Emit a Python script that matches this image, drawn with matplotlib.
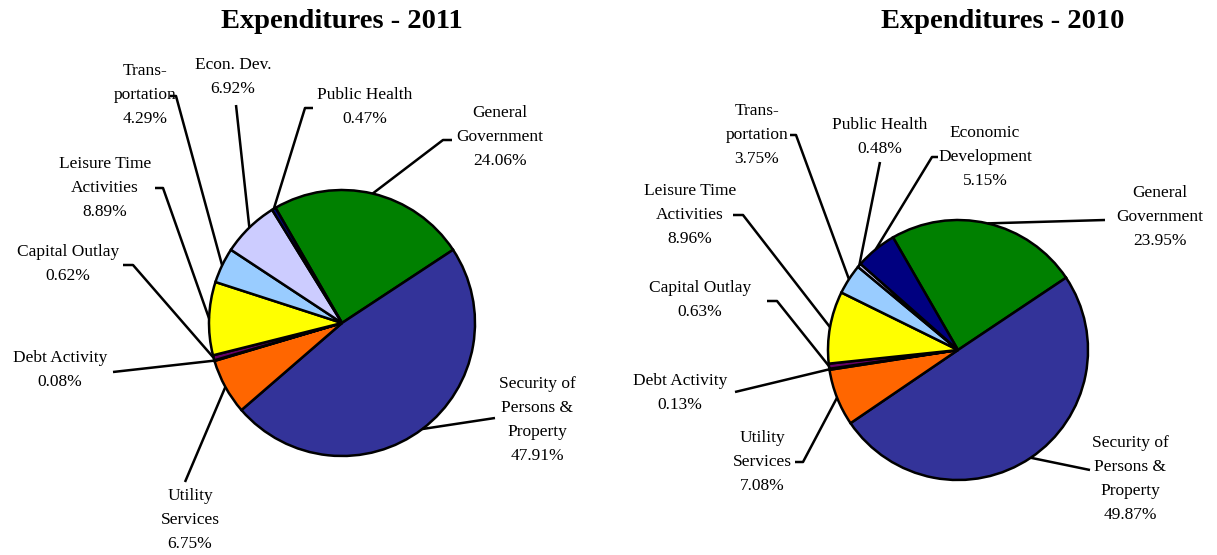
import matplotlib
matplotlib.use("Agg")
import matplotlib.pyplot as plt
import numpy as np

W, H = 1217, 555

# 2011 data (clockwise from General Government)
categories_2011 = ["General\nGovernment", "Security of\nPersons &\nProperty",
                   "Utility\nServices", "Debt Activity", "Capital Outlay",
                   "Leisure Time\nActivities", "Trans-\nportation",
                   "Econ. Dev.", "Public Health"]
share_2011 = [24.06, 47.91, 6.75, 0.08, 0.62, 8.89, 4.29, 6.92, 0.47]

# 2010 data
categories_2010 = ["General\nGovernment", "Security of\nPersons &\nProperty",
                   "Utility\nServices", "Debt Activity", "Capital Outlay",
                   "Leisure Time\nActivities", "Trans-\nportation",
                   "Public Health", "Economic\nDevelopment"]
share_2010 = [23.95, 49.87, 7.08, 0.13, 0.63, 8.96, 3.75, 0.48, 5.15]

# colours by slice position
COLORS = ["#008000", "#333399", "#FF6600", "#000000", "#660066",
          "#FFFF00", "#99CCFF", "#CCCCFF", "#000080"]

# label layout in pixels: text centre, leader start, horizontal tick
LAYOUT_2011 = [
    ((500, 137), (452, 140), -9),
    ((537, 420), (495, 418), 0),
    ((190, 520), (185, 482), 0),
    ((60, 370), (113, 372), 0),
    ((68, 264), (123, 265), 10),
    ((105, 188), (155, 188), 8),
    ((145, 95), (170, 96), 6),
    ((233, 77), (236, 105), 0),
    ((365, 107), (313, 108), -8),
]
LAYOUT_2010 = [
    ((1160, 217), (1105, 220), 0),
    ((1130, 479), (1090, 470), 0),
    ((762, 462), (795, 462), 8),
    ((680, 393), (735, 392), 0),
    ((700, 300), (767, 301), 10),
    ((690, 215), (733, 215), 10),
    ((757, 135), (790, 135), 6),
    ((880, 137), (880, 162), 0),
    ((985, 157), (938, 157), -6),
]

FONT = "Liberation Serif"


def py(y):
    """Convert a top-down pixel y into axis y."""
    return H - y


def draw_pie(ax, title, title_x, cats, vals, center, radius, layout):
    cx, cy = center
    wedges, _ = ax.pie(vals, colors=COLORS, startangle=120, counterclock=False,
                       center=(cx, py(cy)), radius=radius,
                       wedgeprops=dict(edgecolor="black", linewidth=1.8))
    ax.text(title_x, py(21), title, ha="center", va="center", fontsize=20.5,
            fontweight="bold", family=FONT)
    for w, name, val, (txt, start, tick) in zip(wedges, cats, vals, layout):
        mid = np.deg2rad((w.theta1 + w.theta2) / 2)
        ex = cx + radius * np.cos(mid)
        ey = py(cy) + radius * np.sin(mid)
        sx, sy = start
        xs = [sx, sx + tick, ex]
        ys = [py(sy), py(sy), ey]
        ax.plot(xs, ys, color="black", lw=1.8, solid_capstyle="butt")
        ax.text(txt[0], py(txt[1]), f"{name}\n{val:.2f}%", ha="center",
                va="center", multialignment="center", fontsize=12.5,
                linespacing=1.65, family=FONT)


fig = plt.figure(figsize=(W / 100, H / 100), dpi=100)
ax = fig.add_axes([0, 0, 1, 1])

draw_pie(ax, "Expenditures - 2011", 342, categories_2011, share_2011,
         (342, 323), 133, LAYOUT_2011)
draw_pie(ax, "Expenditures - 2010", 1003, categories_2010, share_2010,
         (958, 350), 130, LAYOUT_2010)

ax.set_xlim(0, W)
ax.set_ylim(0, H)
ax.set_aspect("equal")
ax.axis("off")

fig.savefig("out.png", dpi=100, facecolor="white")
